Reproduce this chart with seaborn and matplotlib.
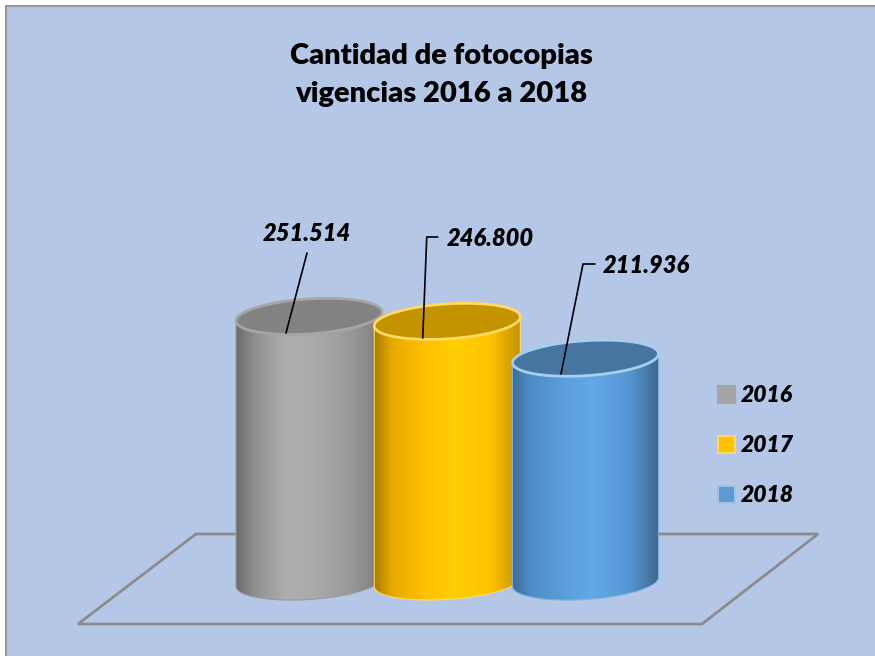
import numpy as np
import pandas as pd
import matplotlib
matplotlib.use("Agg")
import matplotlib.pyplot as plt
import seaborn as sns
from matplotlib.colors import LinearSegmentedColormap
from matplotlib.patches import Polygon, Rectangle
from matplotlib.lines import Line2D

# data
years = ["2016", "2017", "2018"]
values = [251514, 246800, 211936]
value_labels = ["251.514", "246.800", "211.936"]
title_lines = ["Cantidad de fotocopias", "vigencias 2016 a 2018"]

# styling
W, H = 875, 656
BG = "#b4c7e7"
legend_colors = ["#a5a5a5", "#ffc000", "#5b9bd5"]
legend_edges = ["#a5a5a5", "#ffd966", "#9dc3e6"]
side_stops = [
    ["#6b6b6b", "#8e8e8e", "#afafaf", "#aaaaaa", "#979797", "#7c7c7c"],
    ["#a87c00", "#e6aa00", "#ffc000", "#ffcf00", "#ffc200", "#c49300"],
    ["#3d6c99", "#4f8cc6", "#5a9edc", "#63a8e6", "#5596d2", "#3e6890"],
]
top_faces = ["#828282", "#c49300", "#46769f"]
rims = ["#a6a6a6", "#ffd966", "#a9cdef"]
side_edges = ["#9a9a9a", "#ffd966", "#7fb2e0"]

# pixel layout of the plotting space
X0, DX = 309, 138.25          # centre of first cylinder, spacing (px)
BASE, YS = 582, 0.001056      # pixel row of value 0, px per unit
B = 17.5 / YS                 # ellipse semi-height in data units
S = 4.5 / YS                  # slight tilt of the ellipses

sns.set_theme(style="white")
plt.rcParams["font.family"] = ["Lato", "DejaVu Sans"]

fig = plt.figure(figsize=(W / 100, H / 100), dpi=100, facecolor="white")
fig.patches.append(Rectangle((6 / W, -0.01), 1.02, 1 - 6 / H + 0.01,
                             transform=fig.transFigure, facecolor=BG,
                             edgecolor="#999999", lw=1.5, zorder=-2))

ax = fig.add_axes([0, 0, 1, 1])
ax.set_facecolor("none")

df = pd.DataFrame({"year": years, "value": values})
sns.barplot(data=df, x="year", y="value", hue="year", palette=legend_colors,
            width=146 / DX, legend=False, saturation=1, ax=ax)
bars = sorted(ax.patches, key=lambda p: p.get_x())

# floor plane (behind the cylinders)
fx = lambda px: px / W
fy = lambda py: 1 - py / H
floor = [(196, 534), (818, 534), (702, 624), (78, 624), (196, 534)]
fig.lines.append(Line2D([fx(p[0]) for p in floor], [fy(p[1]) for p in floor],
                        transform=fig.transFigure, color="#8c8c8c", lw=2,
                        solid_joinstyle="miter", zorder=-1))

grad = np.linspace(0, 1, 256)[None, :]
for i, p in enumerate(bars):
    p.set_visible(False)
    xl, w, h = p.get_x(), p.get_width(), p.get_height()
    xc, a = xl + w / 2, w / 2
    z = 3 + i

    t = np.linspace(np.pi, 2 * np.pi, 80)
    bottom = np.column_stack([xc + a * np.cos(t), B * np.sin(t) + S * np.cos(t)])
    tr = t[::-1]
    top_front = np.column_stack([xc + a * np.cos(tr), h + B * np.sin(tr) + S * np.cos(tr)])
    body = Polygon(np.vstack([bottom, top_front]), closed=True, facecolor="none",
                   edgecolor=side_edges[i], lw=0.8, zorder=z + 0.1)
    ax.add_patch(body)

    cmap = LinearSegmentedColormap.from_list(
        f"cyl{i}", list(zip([0, 0.12, 0.35, 0.55, 0.8, 1], side_stops[i])))
    im = ax.imshow(grad, cmap=cmap, extent=(xl, xl + w, -B - S, h + B + S),
                   aspect="auto", origin="lower", interpolation="bilinear", zorder=z)
    im.set_clip_path(body)

    tt = np.linspace(0, 2 * np.pi, 160)
    top = np.column_stack([xc + a * np.cos(tt), h + B * np.sin(tt) + S * np.cos(tt)])
    ax.add_patch(Polygon(top, closed=True, facecolor=top_faces[i],
                         edgecolor=rims[i], lw=2, zorder=z + 0.2))

# value labels with leader lines (pixel offsets from top centre)
label_pos = [(-2.5, 75, "center"), (-0.5, 75, "left"), (17.5, 84.7, "left")]
leaders = [
    [(-23, 16.6), (-2, -63.4)],
    [(-24.5, 16.6), (-20.5, -84.4), (-9.5, -84.4)],
    [(-24.5, 15.8), (-2.5, -94.2), (9.5, -94.2)],
]
for i, p in enumerate(bars):
    xc, h = p.get_x() + p.get_width() / 2, p.get_height()
    dx, rise, ha = label_pos[i]
    ax.annotate(value_labels[i], xy=(xc, h), xytext=(dx, rise),
                textcoords="offset pixels", ha=ha, va="baseline",
                fontsize=17, fontweight="heavy", fontstyle="italic",
                color="black", zorder=10)
    ax.plot([xc + q[0] / DX for q in leaders[i]], [h - q[1] / YS for q in leaders[i]],
            color="black", lw=1.2, zorder=10)

ax.set_xlim(-X0 / DX, (W - X0) / DX)
ax.set_ylim(-(H - BASE) / YS, BASE / YS)
ax.axis("off")

# title
fig.text(fx(441), fy(64), title_lines[0], ha="center", va="baseline",
         fontsize=21, fontweight="heavy", color="black")
fig.text(fx(441), fy(102), title_lines[1], ha="center", va="baseline",
         fontsize=21, fontweight="heavy", color="black")

# legend
for i, yc in enumerate([394, 444, 494]):
    fig.patches.append(Rectangle((fx(718), fy(yc + 8.5)), 17 / W, 17 / H,
                                 transform=fig.transFigure, facecolor=legend_colors[i],
                                 edgecolor=legend_edges[i], lw=1.5, zorder=5))
    fig.text(fx(741), fy(yc + 8.5), years[i], ha="left", va="baseline",
             fontsize=16.5, fontweight="heavy", fontstyle="italic", color="black")

fig.savefig("out.png", dpi=100, facecolor=fig.get_facecolor())
